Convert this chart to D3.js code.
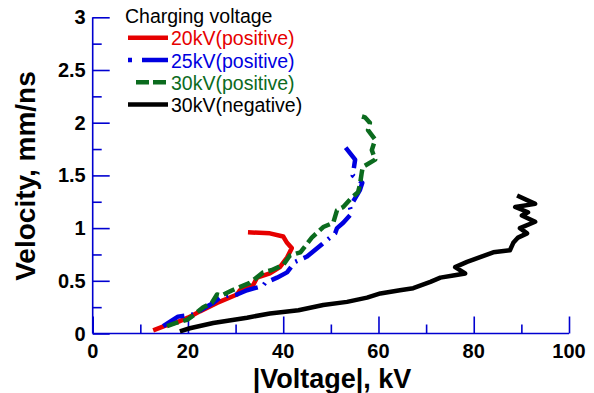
<!DOCTYPE html>
<html>
<head>
<meta charset="utf-8">
<script src="https://cdn.jsdelivr.net/npm/d3@7"></script>
<style>
  body { margin: 0; background: #fff; }
  svg { display: block; font-family: "Liberation Sans", Arial, sans-serif; }
</style>
</head>
<body>
<svg id="chart" width="594" height="393"></svg>
<script>
// |Voltage| (kV) and velocity (mm/ns)
const v20pos = [12.7, 15.0, 17.9, 20.0, 22.5, 26.1, 30.3, 30.9, 33.7, 34.5, 37.2, 39.3, 40.8, 41.8, 40.8, 40.0, 37.2, 32.6];
const u20pos = [0.03, 0.07, 0.11, 0.15, 0.21, 0.29, 0.37, 0.41, 0.46, 0.53, 0.57, 0.63, 0.72, 0.81, 0.86, 0.92, 0.95, 0.96];

const v25pos = [14.8, 16.5, 17.9, 19.5, 21.1, 23.0, 25.3, 26.7, 28.5, 30.3, 32.4, 34.0, 35.7, 36.2, 38.7, 40.8, 42.5, 45.0, 48.2, 50.9, 51.3, 52.6, 54.4, 54.0, 56.1, 56.6, 54.6, 55.1, 53.0];
const u25pos = [0.07, 0.12, 0.16, 0.17, 0.18, 0.23, 0.29, 0.34, 0.36, 0.37, 0.41, 0.43, 0.45, 0.48, 0.53, 0.58, 0.68, 0.73, 0.85, 0.95, 1.00, 1.05, 1.14, 1.20, 1.36, 1.43, 1.50, 1.65, 1.77];

const v30pos = [15.6, 17.5, 19.8, 20.8, 23.2, 25.0, 26.1, 27.0, 29.3, 33.0, 35.8, 37.5, 40.0, 41.4, 43.6, 46.0, 48.4, 50.5, 51.3, 52.6, 54.4, 55.7, 56.1, 56.5, 56.7, 59.3, 58.6, 59.3, 57.8, 58.2, 57.2, 55.7];
const u30pos = [0.07, 0.10, 0.13, 0.16, 0.25, 0.29, 0.37, 0.36, 0.41, 0.48, 0.58, 0.60, 0.65, 0.74, 0.77, 0.91, 1.01, 1.05, 1.17, 1.20, 1.29, 1.34, 1.41, 1.53, 1.58, 1.65, 1.74, 1.84, 1.93, 2.00, 2.05, 2.07];

const v30neg = [18.3, 20.4, 25.3, 32.4, 37.2, 43.2, 48.4, 53.4, 57.6, 60.4, 64.5, 67.3, 70.9, 73.0, 75.7, 78.2, 76.1, 78.6, 84.1, 87.6, 88.3, 89.3, 91.2, 89.7, 92.9, 90.1, 91.4, 88.7, 92.9, 89.1];
const u30neg = [0.02, 0.05, 0.10, 0.15, 0.19, 0.22, 0.27, 0.30, 0.34, 0.38, 0.41, 0.43, 0.49, 0.53, 0.55, 0.57, 0.63, 0.68, 0.77, 0.79, 0.86, 0.91, 0.95, 1.00, 1.06, 1.12, 1.15, 1.20, 1.23, 1.31];

const seriesNames = ['20kV(positive)', '25kV(positive)', '30kV(positive)', '30kV(negative)'];
const xTicks = [0, 20, 40, 60, 80, 100];
const yTicks = [0, 0.5, 1, 1.5, 2, 2.5, 3];

const series = [
    {name: seriesNames[0], xs: v20pos, ys: u20pos, color: '#e60000', dash: null},
    {name: seriesNames[1], xs: v25pos, ys: u25pos, color: '#0000e0', dash: '24,7,2,7'},
    {name: seriesNames[2], xs: v30pos, ys: u30pos, color: '#0b6b1e', dash: '12,5'},
    {name: seriesNames[3], xs: v30neg, ys: u30neg, color: '#000000', dash: null},
];

const svg = d3.select('#chart');
const axisColor = '#0000d0';

const x = d3.scaleLinear().domain([0, 100]).range([92.7, 569]);
const y = d3.scaleLinear().domain([0, 3]).range([333.5, 17.3]);

// axes: ticks point into the plot, minor ticks between labels
const xAxis = svg.append('g').attr('transform', `translate(0,${y(0)})`)
    .call(d3.axisBottom(x).tickValues(d3.range(0, 101, 10)).tickSize(-9).tickFormat(''));
xAxis.selectAll('.tick line')
    .attr('y2', d => d % 20 === 0 ? -17 : -9);
xAxis.select('.domain').attr('d', `M${x(0)},0H${x(100)}`);

const yAxis = svg.append('g').attr('transform', `translate(${x(0)},0)`)
    .call(d3.axisLeft(y).tickValues(d3.range(0, 3.01, 0.25)).tickSize(-9).tickFormat(''));
yAxis.selectAll('.tick line')
    .attr('x2', d => Math.abs(d * 2 - Math.round(d * 2)) < 1e-6 ? 17 : 9);
yAxis.select('.domain').attr('d', `M0,${y(0)}V${y(3)}`);

svg.selectAll('.domain, .tick line')
    .attr('stroke', axisColor)
    .attr('stroke-width', 1.6);

svg.append('g').selectAll('text')
    .data(xTicks)
    .join('text')
    .attr('x', d => x(d))
    .attr('y', y(0) + 24)
    .attr('text-anchor', 'middle')
    .attr('font-size', 20)
    .attr('font-weight', 'bold')
    .text(d => d);

svg.append('g').selectAll('text')
    .data(yTicks)
    .join('text')
    .attr('x', x(0) - 7)
    .attr('y', d => y(d) + 7)
    .attr('text-anchor', 'end')
    .attr('font-size', 20)
    .attr('font-weight', 'bold')
    .text(d => d);

svg.append('text')
    .attr('x', 332)
    .attr('y', 388)
    .attr('text-anchor', 'middle')
    .attr('font-size', 27)
    .attr('font-weight', 'bold')
    .text('|Voltage|, kV');

svg.append('text')
    .attr('transform', 'translate(35,176) rotate(-90)')
    .attr('text-anchor', 'middle')
    .attr('font-size', 28)
    .attr('font-weight', 'bold')
    .text('Velocity, mm/ns');

// data lines
const line = d3.line().x(d => x(d[0])).y(d => y(d[1]));

svg.append('g').selectAll('path')
    .data(series)
    .join('path')
    .attr('d', s => line(s.xs.map((v, i) => [v, s.ys[i]])))
    .attr('fill', 'none')
    .attr('stroke', s => s.color)
    .attr('stroke-width', 4.5)
    .attr('stroke-linejoin', 'round')
    .attr('stroke-dasharray', s => s.dash);

// legend
const legend = svg.append('g');
legend.append('text')
    .attr('x', 125)
    .attr('y', 22.5)
    .attr('font-size', 19.5)
    .text('Charging voltage');

const row = legend.selectAll('g.row')
    .data(series)
    .join('g')
    .attr('class', 'row')
    .attr('transform', (d, i) => `translate(0,${37.7 + i * 22.3})`);

row.append('line')
    .attr('x1', (d, i) => i === 2 ? 136 : 128)
    .attr('x2', 168)
    .attr('stroke', d => d.color)
    .attr('stroke-width', 4.5)
    .attr('stroke-dasharray', (d, i) => i === 1 ? '4,10,26' : i === 2 ? '13,4' : null);

row.append('text')
    .attr('x', 171)
    .attr('y', 7.5)
    .attr('font-size', 19.5)
    .attr('fill', d => d.color === '#000000' ? '#000' : d.color)
    .text(d => d.name);
</script>
</body>
</html>
